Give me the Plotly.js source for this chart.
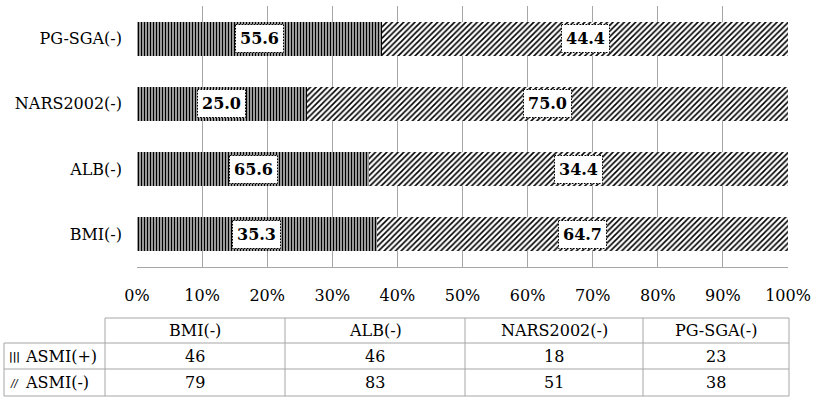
<!DOCTYPE html>
<html>
<head>
<meta charset="utf-8">
<script src="https://cdn.plot.ly/plotly-3.0.1.min.js"></script>
<style>
  html, body { margin: 0; padding: 0; background: #fff; }
  #chart { width: 829px; height: 403px; }
</style>
</head>
<body>
<div id="chart"></div>
<script>
// categories bottom -> top
var categories = ['BMI(-)', 'ALB(-)', 'NARS2002(-)', 'PG-SGA(-)'];
var tableOrder = ['BMI(-)', 'ALB(-)', 'NARS2002(-)', 'PG-SGA(-)'];
var seriesNames = ['ASMI(+)', 'ASMI(-)'];
var asmiPos = [46, 46, 18, 23];
var asmiNeg = [79, 83, 51, 38];
var labelPos = ['35.3', '65.6', '25.0', '55.6'];
var labelNeg = ['64.7', '34.4', '75.0', '44.4'];

var W = 829, H = 403;
var M = {l: 137, r: 41, t: 6, b: 136};
var FONT = 'DejaVu Serif';
var FS = 16;
var LINE = '#a6a6a6';

// pixel -> paper coordinates
function px(x) { return (x - M.l) / (W - M.l - M.r); }
function py(y) { return (H - M.b - y) / (H - M.t - M.b); }

var traces = [
  {
    type: 'bar', orientation: 'h', name: seriesNames[0],
    y: categories, x: asmiPos,
    marker: {color: '#fff', line: {width: 0},
      pattern: {shape: '|', fgcolor: '#000', bgcolor: '#fff', size: 3, solidity: 0.6}},
    hoverinfo: 'skip'
  },
  {
    type: 'bar', orientation: 'h', name: seriesNames[1],
    y: categories, x: asmiNeg,
    marker: {color: '#fff', line: {width: 0},
      pattern: {shape: '/', fgcolor: '#000', bgcolor: '#fff', size: 4, solidity: 0.4}},
    hoverinfo: 'skip'
  }
];

var annotations = [];
// data labels, centred on each stacked segment
categories.forEach(function (c, i) {
  var tot = asmiPos[i] + asmiNeg[i];
  var p1 = asmiPos[i] / tot * 100;
  var p2 = asmiNeg[i] / tot * 100;
  [[p1 / 2, labelPos[i]], [p1 + p2 / 2, labelNeg[i]]].forEach(function (d) {
    annotations.push({
      xref: 'x', yref: 'y', x: d[0], y: c, text: '<b>' + d[1] + '</b>',
      showarrow: false, font: {family: FONT, size: 16, color: '#000'},
      bgcolor: '#fff', bordercolor: '#000', borderwidth: 1, borderpad: 4
    });
  });
});

// data table under the chart
var colEdges = [4, 105, 285, 465, 643, 789];
var rowEdges = [318, 343, 369, 396];
function tableText(x, y, text, anchor, size, fam) {
  annotations.push({
    xref: 'paper', yref: 'paper', x: px(x), y: py(y), text: text,
    xanchor: anchor || 'center', yanchor: 'middle', showarrow: false,
    font: {family: fam || FONT, size: size || FS, color: '#000'}
  });
}
tableOrder.forEach(function (c, j) {
  var cx = (colEdges[j + 1] + colEdges[j + 2]) / 2;
  var k = categories.indexOf(c);
  tableText(cx, (rowEdges[0] + rowEdges[1]) / 2, c);
  tableText(cx, (rowEdges[1] + rowEdges[2]) / 2, String(asmiPos[k]));
  tableText(cx, (rowEdges[2] + rowEdges[3]) / 2, String(asmiNeg[k]));
});
tableText(23, (rowEdges[1] + rowEdges[2]) / 2, seriesNames[0], 'left');
tableText(23, (rowEdges[2] + rowEdges[3]) / 2, seriesNames[1], 'left');
// little key glyphs
tableText(15, (rowEdges[1] + rowEdges[2]) / 2 + 1, '<b>|||</b>', 'center', 10, 'DejaVu Sans');
tableText(15, (rowEdges[2] + rowEdges[3]) / 2 + 1, '<i>//</i>', 'center', 10, 'DejaVu Sans');

var shapes = [];
function seg(x0, y0, x1, y1) {
  shapes.push({type: 'line', xref: 'paper', yref: 'paper',
    x0: px(x0), y0: py(y0), x1: px(x1), y1: py(y1),
    line: {color: LINE, width: 1}, layer: 'above'});
}
seg(colEdges[1], rowEdges[0], colEdges[5], rowEdges[0]);
for (var r = 1; r < rowEdges.length; r++) seg(colEdges[0], rowEdges[r], colEdges[5], rowEdges[r]);
seg(colEdges[0], rowEdges[1], colEdges[0], rowEdges[3]);
for (var q = 1; q < colEdges.length; q++) seg(colEdges[q], rowEdges[0], colEdges[q], rowEdges[3]);

var layout = {
  width: W, height: H,
  margin: M,
  paper_bgcolor: '#fff', plot_bgcolor: '#fff',
  barmode: 'stack', barnorm: 'percent', bargap: 0.48,
  showlegend: false,
  font: {family: FONT, size: FS, color: '#000'},
  xaxis: {
    range: [0, 100], dtick: 10, ticksuffix: '%',
    showgrid: true, gridcolor: LINE, gridwidth: 1,
    showline: true, linecolor: LINE, linewidth: 1,
    zeroline: false, ticks: '', ticklabelstandoff: 14,
    tickfont: {family: FONT, size: FS, color: '#000'}, fixedrange: true
  },
  yaxis: {
    categoryorder: 'array', categoryarray: categories,
    showgrid: false, zeroline: false, showline: false,
    ticks: '', ticklabelstandoff: 14,
    tickfont: {family: FONT, size: FS, color: '#000'}, fixedrange: true
  },
  annotations: annotations,
  shapes: shapes
};

Plotly.newPlot('chart', traces, layout, {staticPlot: true, displayModeBar: false}).then(function () {
  // dotted borders around the data labels
  document.querySelectorAll('.annotation rect.bg').forEach(function (el) {
    el.style.strokeDasharray = '1.5,1.5';
  });
});
</script>
</body>
</html>
